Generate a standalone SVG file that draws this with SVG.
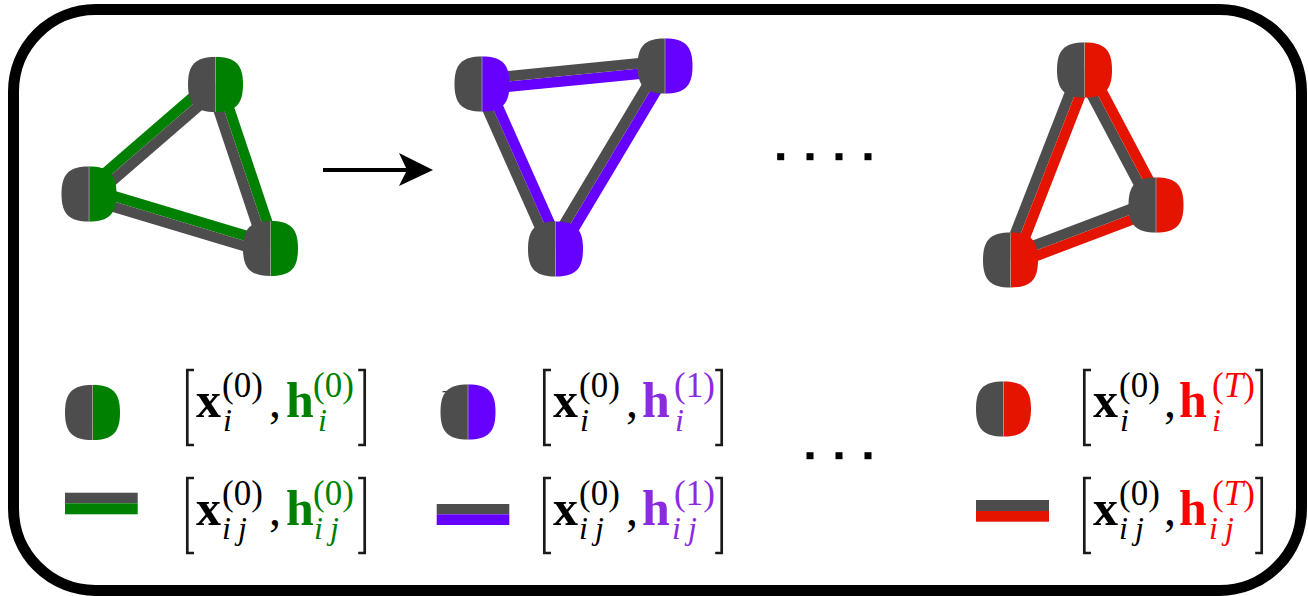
<svg xmlns="http://www.w3.org/2000/svg" width="1308" height="596" viewBox="0 0 1308 596">
<style>
.g{fill:#4d4d4d}.cg{fill:#008000}.cp{fill:#6600ff}.cr{fill:#e41400}
.div{stroke:#a0a0a0;stroke-width:0.8}
.br{fill:none;stroke:#1a1a1a;stroke-width:2.7}
text{font-family:"Liberation Serif","DejaVu Serif",serif}
.bx{font-weight:bold;font-size:50px}
.sb{font-style:italic;font-size:32px}
.sp{font-size:35px}
.cm{font-size:48px}
.tg{fill:#008000}.tp{fill:#8a2be2}.tr{fill:#ff0000}
.dot{fill:#000}
</style>
<defs>
<path id="lh" d="M0,-27.5 C-20,-27.5 -27.5,-20 -27.5,0 C-27.5,20 -20,27.5 0,27.5 Z"/>
<path id="rh" d="M0,-27.5 C20,-27.5 27.5,-20 27.5,0 C27.5,20 20,27.5 0,27.5 Z"/>
</defs>

<rect x="13.5" y="9.5" width="1288" height="581" rx="82" ry="82" fill="#fff" stroke="#000" stroke-width="11"/>

<g id="connectors">
<g transform="translate(215.5,84.5) rotate(139.12)"><rect class="cg" x="0" y="0" width="167.3" height="10.5"/><rect class="g" x="0" y="-10.5" width="167.3" height="10.5"/></g>
<g transform="translate(215.5,84.5) rotate(71.46)"><rect class="cg" x="0" y="-10.5" width="173" height="10.5"/><rect class="g" x="0" y="0" width="173" height="10.5"/></g>
<g transform="translate(89,194) rotate(16.71)"><rect class="cg" x="0" y="-10.5" width="189.5" height="10.5"/><rect class="g" x="0" y="0" width="189.5" height="10.5"/></g>

<g transform="translate(482,84) rotate(-5.62)"><rect class="cp" x="0" y="0" width="183.9" height="10.5"/><rect class="g" x="0" y="-10.5" width="183.9" height="10.5"/></g>
<g transform="translate(482,84) rotate(65.99)"><rect class="g" x="0" y="0" width="180.6" height="10.5"/><rect class="cp" x="0" y="-10.5" width="180.6" height="10.5"/></g>
<g transform="translate(555.5,249) rotate(-59.11)"><rect class="cp" x="0" y="0" width="213.3" height="10.5"/><rect class="g" x="0" y="-10.5" width="213.3" height="10.5"/></g>

<g transform="translate(1084.5,70) rotate(111.28)"><rect class="g" x="0" y="0" width="203.9" height="10.5"/><rect class="cr" x="0" y="-10.5" width="203.9" height="10.5"/></g>
<g transform="translate(1084.5,70) rotate(62.09)"><rect class="g" x="0" y="0" width="152.8" height="10.5"/><rect class="cr" x="0" y="-10.5" width="152.8" height="10.5"/></g>
<g transform="translate(1010.5,260) rotate(-20.71)"><rect class="cr" x="0" y="0" width="155.6" height="10.5"/><rect class="g" x="0" y="-10.5" width="155.6" height="10.5"/></g>

<line x1="323" y1="170" x2="410" y2="170" stroke="#000" stroke-width="4"/>
<polygon points="433,170 399,153 407,170 399,186" fill="#000"/>
</g>

<g id="g1-top" transform="translate(215.5,84.5)"><use href="#lh" class="g"/><use href="#rh" class="cg"/><line class="div" x1="0" y1="-27.5" x2="0" y2="27.5"/></g>
<g id="g1-left" transform="translate(89,194)"><use href="#lh" class="g"/><use href="#rh" class="cg"/><line class="div" x1="0" y1="-27.5" x2="0" y2="27.5"/></g>
<g id="g1-right" transform="translate(270.5,248.5)"><use href="#lh" class="g"/><use href="#rh" class="cg"/><line class="div" x1="0" y1="-27.5" x2="0" y2="27.5"/></g>

<g id="g2-left" transform="translate(482,84)"><use href="#lh" class="g"/><use href="#rh" class="cp"/><line class="div" x1="0" y1="-27.5" x2="0" y2="27.5"/></g>
<g id="g2-right" transform="translate(665,66)"><use href="#lh" class="g"/><use href="#rh" class="cp"/><line class="div" x1="0" y1="-27.5" x2="0" y2="27.5"/></g>
<g id="g2-bottom" transform="translate(555.5,249)"><use href="#lh" class="g"/><use href="#rh" class="cp"/><line class="div" x1="0" y1="-27.5" x2="0" y2="27.5"/></g>

<g id="g3-top" transform="translate(1084.5,70)"><use href="#lh" class="g"/><use href="#rh" class="cr"/><line class="div" x1="0" y1="-27.5" x2="0" y2="27.5"/></g>
<g id="g3-right" transform="translate(1156,205)"><use href="#lh" class="g"/><use href="#rh" class="cr"/><line class="div" x1="0" y1="-27.5" x2="0" y2="27.5"/></g>
<g id="g3-left" transform="translate(1010.5,260)"><use href="#lh" class="g"/><use href="#rh" class="cr"/><line class="div" x1="0" y1="-27.5" x2="0" y2="27.5"/></g>

<g id="dots-top">
<rect class="dot" x="777.2" y="153.2" width="7" height="7"/>
<rect class="dot" x="806.5" y="153.2" width="7" height="7"/>
<rect class="dot" x="835.5" y="153.2" width="7" height="7"/>
<rect class="dot" x="864.5" y="153.2" width="7" height="7"/>
</g>
<g id="dots-bottom">
<rect class="dot" x="806.5" y="452.2" width="7" height="7"/>
<rect class="dot" x="835.5" y="452.2" width="7" height="7"/>
<rect class="dot" x="864.5" y="452.2" width="7" height="7"/>
</g>

<g id="leg-node-0" transform="translate(92.5,412.5)"><use href="#lh" class="g"/><use href="#rh" class="cg"/><line class="div" x1="0" y1="-27.5" x2="0" y2="27.5"/></g>
<g id="leg-node-1" transform="translate(468,412)"><use href="#lh" class="g"/><use href="#rh" class="cp"/><line class="div" x1="0" y1="-27.5" x2="0" y2="27.5"/><line x1="-25.5" y1="-20.3" x2="-21.3" y2="-20.3" stroke="#333" stroke-width="1.2"/></g>
<g id="leg-node-T" transform="translate(1003.5,409)"><use href="#lh" class="g"/><use href="#rh" class="cr"/><line class="div" x1="0" y1="-27.5" x2="0" y2="27.5"/></g>

<g id="leg-edge-0"><rect class="g" x="65" y="492.7" width="72.7" height="10.6"/><rect class="cg" x="65" y="503.3" width="72.7" height="11"/></g>
<g id="leg-edge-1"><rect class="g" x="436.7" y="504" width="72.6" height="10.3"/><rect class="cp" x="436.7" y="514.3" width="72.6" height="10.7"/></g>
<g id="leg-edge-T"><rect class="g" x="976" y="500" width="73" height="11"/><rect class="cr" x="976" y="511" width="73" height="10.7"/></g>

<g id="f-node-0">
<path class="br" d="M194,370 H187.3 V445 H194"/>
<path class="br" d="M358.2,370 H364.7 V445 H358.2"/>
<text class="bx" x="196" y="417">x</text>
<text class="sb" x="223" y="431">i</text>
<text class="sp" x="222" y="397">(0)</text>
<text class="cm" x="269" y="417">,</text>
<text class="bx tg" x="286" y="417">h</text>
<text class="sb tg" x="318" y="431">i</text>
<text class="sp tg" x="313" y="397">(0)</text>
</g>
<g id="f-edge-0">
<path class="br" d="M194,478 H187.3 V553 H194"/>
<path class="br" d="M358.2,478 H364.7 V553 H358.2"/>
<text class="bx" x="196" y="525">x</text>
<text class="sb" x="222" y="539" textLength="25" lengthAdjust="spacing">ij</text>
<text class="sp" x="222" y="505">(0)</text>
<text class="cm" x="269" y="525">,</text>
<text class="bx tg" x="286" y="525">h</text>
<text class="sb tg" x="314" y="539" textLength="25" lengthAdjust="spacing">ij</text>
<text class="sp tg" x="313" y="505">(0)</text>
</g>

<g id="f-node-1">
<path class="br" d="M551,370 H544.3 V445 H551"/>
<path class="br" d="M715.2,370 H721.7 V445 H715.2"/>
<text class="bx" x="553" y="417">x</text>
<text class="sb" x="580" y="431">i</text>
<text class="sp" x="579" y="397">(0)</text>
<text class="cm" x="626" y="417">,</text>
<text class="bx tp" x="642" y="417">h</text>
<text class="sb tp" x="675" y="431">i</text>
<text class="sp tp" x="674" y="397">(1)</text>
</g>
<g id="f-edge-1">
<path class="br" d="M551,478 H544.3 V553 H551"/>
<path class="br" d="M715.2,478 H721.7 V553 H715.2"/>
<text class="bx" x="553" y="525">x</text>
<text class="sb" x="579" y="539" textLength="25" lengthAdjust="spacing">ij</text>
<text class="sp" x="579" y="505">(0)</text>
<text class="cm" x="626" y="525">,</text>
<text class="bx tp" x="642" y="525">h</text>
<text class="sb tp" x="672" y="539" textLength="25" lengthAdjust="spacing">ij</text>
<text class="sp tp" x="674" y="505">(1)</text>
</g>

<g id="f-node-T">
<path class="br" d="M1091,370 H1084.3 V445 H1091"/>
<path class="br" d="M1255.2,370 H1261.7 V445 H1255.2"/>
<text class="bx" x="1093" y="417">x</text>
<text class="sb" x="1120" y="431">i</text>
<text class="sp" x="1119" y="397">(0)</text>
<text class="cm" x="1164" y="417">,</text>
<text class="bx tr" x="1179" y="417">h</text>
<text class="sb tr" x="1212" y="431">i</text>
<text class="sp tr" x="1212" y="397">(<tspan font-style="italic">T</tspan>)</text>
</g>
<g id="f-edge-T">
<path class="br" d="M1091,478 H1084.3 V553 H1091"/>
<path class="br" d="M1255.2,478 H1261.7 V553 H1255.2"/>
<text class="bx" x="1093" y="525">x</text>
<text class="sb" x="1119" y="539" textLength="25" lengthAdjust="spacing">ij</text>
<text class="sp" x="1119" y="505">(0)</text>
<text class="cm" x="1164" y="525">,</text>
<text class="bx tr" x="1179" y="525">h</text>
<text class="sb tr" x="1209" y="539" textLength="25" lengthAdjust="spacing">ij</text>
<text class="sp tr" x="1212" y="505">(<tspan font-style="italic">T</tspan>)</text>
</g>
</svg>
